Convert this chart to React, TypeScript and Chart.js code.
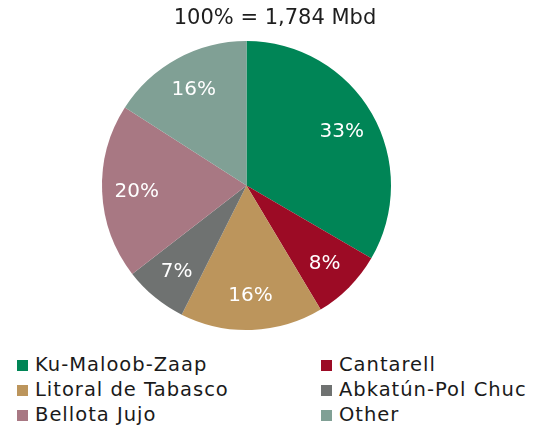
import React, { useEffect, useRef } from "react";
import { Chart, registerables } from "chart.js";

Chart.register(...registerables);

const categories = [
  "Ku-Maloob-Zaap",
  "Cantarell",
  "Litoral de Tabasco",
  "Abkatún-Pol Chuc",
  "Bellota Jujo",
  "Other",
];
const volumesMbd = [596, 143, 285, 127, 349, 284];
const sliceColors = ["#008556", "#9C0B25", "#BC955C", "#6F7271", "#A87883", "#80A095"];
const titleText = "100% = 1,784 Mbd";

const FONT = "'DejaVu Sans', sans-serif";

const titlePlugin = {
  id: "customTitle",
  afterDraw(chart: any) {
    const ctx = chart.ctx;
    ctx.save();
    ctx.font = `21px ${FONT}`;
    ctx.fillStyle = "#1e1e1e";
    ctx.textAlign = "center";
    ctx.textBaseline = "middle";
    ctx.fillText(titleText, 275, 19);
    ctx.restore();
  },
};

const labelPlugin = {
  id: "sliceLabels",
  afterDatasetsDraw(chart: any) {
    const ctx = chart.ctx;
    const meta = chart.getDatasetMeta(0);
    const data = chart.data.datasets[0].data as number[];
    const total = data.reduce((a, b) => a + b, 0);
    ctx.save();
    ctx.font = `20px ${FONT}`;
    ctx.fillStyle = "#ffffff";
    ctx.textAlign = "center";
    ctx.textBaseline = "middle";
    meta.data.forEach((arc: any, i: number) => {
      const p = arc.getProps(["x", "y", "startAngle", "endAngle", "outerRadius"], true);
      const mid = (p.startAngle + p.endAngle) / 2;
      const r = p.outerRadius * 0.76;
      const x = p.x + Math.cos(mid) * r;
      const y = p.y + Math.sin(mid) * r;
      ctx.fillText(Math.round((data[i] / total) * 100) + "%", x, y + 1);
    });
    ctx.restore();
  },
};

export default function App() {
  const canvasRef = useRef<HTMLCanvasElement | null>(null);

  useEffect(() => {
    if (!canvasRef.current) return;
    const chart = new Chart(canvasRef.current, {
      type: "pie",
      data: {
        labels: categories,
        datasets: [
          {
            data: volumesMbd,
            backgroundColor: sliceColors,
            borderWidth: 0,
            hoverOffset: 0,
          },
        ],
      },
      options: {
        responsive: false,
        maintainAspectRatio: false,
        animation: false,
        layout: { padding: { left: 102, right: 156, top: 41, bottom: 10 } },
        plugins: {
          legend: { display: false },
          title: { display: false },
          tooltip: { enabled: false },
        },
      },
      plugins: [titlePlugin, labelPlugin],
    });
    return () => chart.destroy();
  }, []);

  const rowCenters = [365, 390, 415];
  const colMarkerX = [17, 321];

  return (
    <div style={{ position: "absolute", left: 0, top: 0, width: 547, height: 427, background: "#fff", overflow: "hidden" }}>
      <canvas ref={canvasRef} width={547} height={340} style={{ position: "absolute", left: 0, top: 0, width: 547, height: 340 }} />
      {categories.map((c, i) => {
        const row = Math.floor(i / 2);
        const col = i % 2;
        const cy = rowCenters[row];
        return (
          <div key={c}>
            <div
              style={{
                position: "absolute",
                left: colMarkerX[col],
                top: cy - 5.5,
                width: 11,
                height: 11,
                background: sliceColors[i],
              }}
            />
            <div
              style={{
                position: "absolute",
                left: colMarkerX[col] + 18,
                top: cy - 12,
                height: 24,
                lineHeight: "24px",
                fontFamily: FONT,
                fontSize: 19.5,
                letterSpacing: "1px",
                color: "#1a1a1a",
                whiteSpace: "nowrap",
              }}
            >
              {c}
            </div>
          </div>
        );
      })}
    </div>
  );
}
